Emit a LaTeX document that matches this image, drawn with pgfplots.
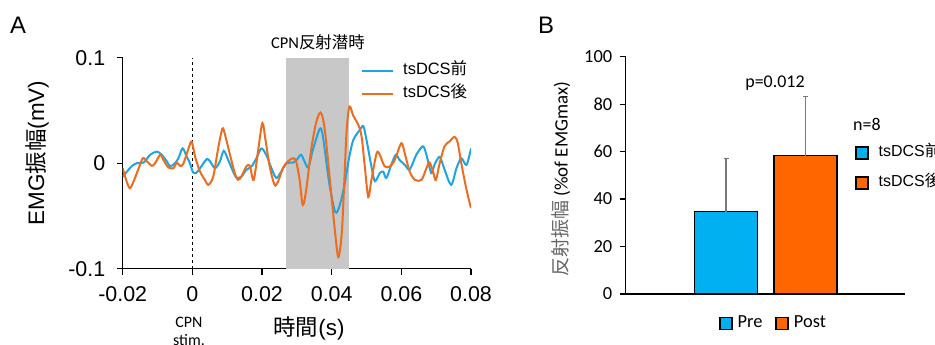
\documentclass[border=0pt]{standalone}
\usepackage{fontspec}
\setmainfont{Liberation Sans}
\newfontfamily\cjk{Noto Sans CJK JP}
\newfontfamily\calfont{Carlito}
\usepackage{pgfplots}
\pgfplotsset{compat=1.18}
\definecolor{lblue}{RGB}{30,165,225}
\definecolor{lorange}{RGB}{238,108,30}
\definecolor{preblue}{RGB}{0,176,240}
\definecolor{postorange}{RGB}{255,102,0}
\definecolor{boxgray}{RGB}{200,200,200}
\definecolor{errgray}{RGB}{120,120,120}
\pgfplotsset{sqlegend/.style={legend image code/.code={\draw[##1, line width=1.5bp] (0bp,-6bp) rectangle (12bp,6bp);}}}
\begin{document}
\begin{tikzpicture}[x=1bp,y=1bp]
\path[use as bounding box] (0,0) rectangle (935,344);
% ---------------- Panel A ----------------
\begin{axis}[
  at={(122.7bp,75.3bp)}, anchor=south west,
  scale only axis, width=348.3bp, height=211bp,
  xmin=-0.02, xmax=0.08, ymin=-0.1, ymax=0.1,
  axis x line*=bottom, axis y line*=left,
  axis line style={-, line width=1.3bp, black},
  scaled ticks=false,
  /pgf/number format/assume math mode=true,
  xtick={-0.02,0,0.02,0.04,0.06,0.08},
  xticklabels={-0.02,0,0.02,0.04,0.06,0.08},
  ytick={-0.1,0,0.1}, yticklabels={-0.1,0,0.1},
  tick align=outside, major tick length=6bp,
  tick style={line width=1.3bp, black},
  ticklabel style={font=\fontsize{21.5}{24}\selectfont},
  xticklabel style={yshift=-8bp},
  yticklabel style={xshift=-8bp},
  legend cell align=left,
  legend image code/.code={\draw[#1, line width=2bp] (0bp,0bp) -- (31bp,0bp);},
  legend style={draw=none, fill=none, inner sep=0pt, at={(0.6842,0.8825)}, anchor=west,
    font=\fontsize{16.5}{18}\selectfont, row sep=7bp,
    nodes={inner sep=0pt, text height=12bp, text depth=4bp},
    /tikz/every odd column/.append style={column sep=9bp}},
]
\addplot[draw=none, fill=boxgray, forget plot] coordinates {(0.027,-0.1) (0.045,-0.1) (0.045,0.1) (0.027,0.1)} -- cycle;
\addplot[black, dashed, line width=0.7bp, forget plot] coordinates {(0,-0.1) (0,0.1)};
\addplot[lblue, line width=2bp, smooth] coordinates {
(-0.020,-0.0126) (-0.0188,-0.008) (-0.0173,-0.0025) (-0.0159,0) (-0.014,0.0006) (-0.0121,0.008) (-0.0102,0.011) (-0.0088,0.008) (-0.0073,0.0016) (-0.0064,-0.003) (-0.005,0) (-0.004,0.0047) (-0.0028,0.014) (-0.0016,0.006) (-0.0007,0) (0.0001,-0.008) (0.001,-0.0095) (0.0022,-0.0047) (0.0041,0.0038) (0.005,0.002) (0.0065,-0.0047) (0.0079,0.0016) (0.009,0.0117) (0.0103,0.003) (0.0117,-0.008) (0.0127,-0.014) (0.0141,-0.0126) (0.0155,-0.0063) (0.017,-0.003) (0.0184,0.0047) (0.0198,0.014) (0.0212,0.008) (0.0227,-0.0047) (0.0241,-0.014) (0.0255,-0.008) (0.027,0) (0.0289,0.0006) (0.0298,0.0025) (0.0312,0.008) (0.0322,0.0016) (0.0333,-0.004) (0.0346,0.0126) (0.0365,0.032) (0.0374,0.027) (0.0393,-0.019) (0.041,-0.046) (0.0422,-0.041) (0.0436,-0.022) (0.045,0.005) (0.0462,0.022) (0.0481,0.0316) (0.0491,0.035) (0.0500,0.022) (0.0514,-0.003) (0.0524,-0.017) (0.0538,-0.0095) (0.0548,-0.008) (0.0557,-0.014) (0.0571,-0.0016) (0.0584,0.008) (0.0595,0.003) (0.061,-0.0016) (0.0624,-0.006) (0.0643,0.008) (0.0662,0.016) (0.0672,0.008) (0.0686,-0.0095) (0.0695,-0.0016) (0.071,0.006) (0.0724,-0.006) (0.0743,-0.0205) (0.0758,-0.005) (0.0772,0.0047) (0.0787,-0.0016) (0.0800,0.014)
};
\addlegendentry{tsDCS{\cjk 前}}
\addplot[lorange, line width=2bp, smooth] coordinates {
(-0.020,-0.0047) (-0.0192,-0.014) (-0.018,-0.0237) (-0.0169,-0.0174) (-0.0154,-0.0047) (-0.0142,0.0047) (-0.013,0.0016) (-0.0116,-0.0025) (-0.0107,0) (-0.0092,0.008) (-0.0083,0.003) (-0.0069,-0.004) (-0.0054,-0.0047) (-0.0045,0.0006) (-0.0035,-0.0025) (-0.0026,-0.0006) (-0.0011,0.014) (-0.0002,0.0205) (0.0008,0.006) (0.0022,-0.008) (0.0036,-0.0158) (0.0046,-0.0205) (0.006,-0.0126) (0.0074,0.014) (0.0086,0.0325) (0.0093,0.028) (0.0108,0.008) (0.0122,-0.0095) (0.0131,-0.0158) (0.0141,-0.0126) (0.0155,-0.003) (0.0165,-0.0025) (0.0176,-0.0158) (0.0189,0.0126) (0.0201,0.038) (0.021,0.022) (0.0222,-0.003) (0.0236,-0.0205) (0.0246,-0.0174) (0.026,-0.0047) (0.0274,0.0016) (0.0289,0.0047) (0.0298,0.0016) (0.0308,-0.0158) (0.0317,-0.0395) (0.0327,-0.025) (0.0341,0.0126) (0.0355,0.038) (0.0368,0.048) (0.0379,0.0348) (0.0393,-0.0095) (0.0408,-0.060) (0.0419,-0.089) (0.0429,-0.066) (0.0436,-0.019) (0.0443,0.0316) (0.0451,0.0537) (0.0462,0.045) (0.0477,0.036) (0.0486,0.025) (0.0495,-0.003) (0.0505,-0.032) (0.0514,-0.016) (0.0529,0.0095) (0.0538,0.008) (0.0552,-0.003) (0.0567,-0.003) (0.0581,0.003) (0.06,0.019) (0.061,0.009) (0.0624,-0.008) (0.0639,-0.0158) (0.0658,-0.0158) (0.0672,-0.0047) (0.0681,0.0006) (0.0691,-0.008) (0.0699,-0.016) (0.071,0) (0.0724,0.016) (0.0738,0.0205) (0.0753,0.025) (0.0762,0.019) (0.0772,0) (0.0787,-0.025) (0.0800,-0.0426)
};
\addlegendentry{tsDCS{\cjk 後}}
\end{axis}
% labels panel A
\node[inner sep=0pt, anchor=base, font=\fontsize{24}{26}\selectfont] at (18,311) {A};
\node[inner sep=0pt, anchor=base, font=\fontsize{16.5}{18}\selectfont] at (318,296) {{\calfont CPN}{\cjk 反射潜時}};
\node[inner sep=0pt, rotate=90, font=\fontsize{22.5}{24}\selectfont] at (37,191) {EMG{\cjk 振幅}(mV)};
\node[inner sep=0pt, font=\fontsize{22.5}{24}\selectfont] at (309,16) {{\cjk 時間}(s)};
\node[inner sep=0pt, anchor=base, font=\calfont\fontsize{16}{18}\selectfont] at (189,17) {CPN};
\node[inner sep=0pt, anchor=base, font=\calfont\fontsize{16}{18}\selectfont] at (189,-1) {stim.};
% ---------------- Panel B ----------------
\begin{axis}[
  at={(625.7bp,50bp)}, anchor=south west,
  scale only axis, width=279.3bp, height=237.3bp,
  xmin=-0.262, xmax=3.252, ymin=0, ymax=100,
  axis x line*=bottom, axis y line*=left,
  axis line style={-, line width=1.2bp, black},
  /pgf/number format/assume math mode=true,
  xtick=\empty, ytick={0,20,40,60,80,100},
  tick align=outside, major tick length=6bp,
  tick style={line width=1.2bp, black},
  ticklabel style={font=\calfont\fontsize{18.5}{20}\selectfont},
  yticklabel style={xshift=-4bp},
  legend cell align=left,
  legend style={draw=none, fill=none, inner sep=0pt, at={(0.821,0.532)}, anchor=west,
    font=\fontsize{16}{18}\selectfont, row sep=14bp,
    nodes={inner sep=0pt, text height=12bp, text depth=4bp},
    /tikz/every odd column/.append style={column sep=10bp}},
]
\addplot[ybar, bar width=0.79, bar shift=0pt, fill=preblue, draw=black, line width=1.3bp, sqlegend,
  error bars/.cd, y dir=plus, y explicit,
  error bar style={line width=1.2bp, color=errgray},
  error mark options={rotate=90, mark size=2.5bp, line width=1.2bp, color=errgray}]
  coordinates {(1,34.7) +- (0,22.5)};
\addlegendentry{tsDCS{\cjk 前}}
\addplot[ybar, bar width=0.79, bar shift=0pt, fill=postorange, draw=black, line width=1.3bp, sqlegend,
  error bars/.cd, y dir=plus, y explicit,
  error bar style={line width=1.2bp, color=errgray},
  error mark options={rotate=90, mark size=2.5bp, line width=1.2bp, color=errgray}]
  coordinates {(2,58.3) +- (0,24.8)};
\addlegendentry{tsDCS{\cjk 後}}
\end{axis}
\begin{axis}[
  at={(625.7bp,50bp)}, anchor=south west,
  scale only axis, width=279.3bp, height=237.3bp,
  xmin=-0.262, xmax=3.252, ymin=0, ymax=100, hide axis,
  legend columns=-1,
  legend style={draw=none, fill=none, inner sep=0pt, at={(0.5256,-0.1243)}, anchor=center,
    font=\calfont\fontsize{18.5}{20}\selectfont,
    nodes={inner sep=0pt, text height=12bp, text depth=4bp},
    /tikz/every odd column/.append style={column sep=5bp},
    /tikz/every even column/.append style={column sep=13bp}},
  sqlegend,
]
\addlegendimage{fill=preblue, draw=black}
\addlegendentry{Pre}
\addlegendimage{fill=postorange, draw=black}
\addlegendentry{Post}
\end{axis}
\node[inner sep=0pt, anchor=base, font=\fontsize{24}{26}\selectfont] at (546,311) {B};
\node[inner sep=0pt, font=\calfont\fontsize{18}{20}\selectfont] at (775,260.5) {p=0.012};
\node[inner sep=0pt, anchor=west, font=\calfont\fontsize{18}{20}\selectfont] at (853,220) {n=8};
\node[inner sep=0pt, rotate=90, font=\calfont\fontsize{19}{21}\selectfont] at (561,165) {{\cjk\color{black!60}反射振幅} (\%of EMGmax)};
\end{tikzpicture}
\end{document}
